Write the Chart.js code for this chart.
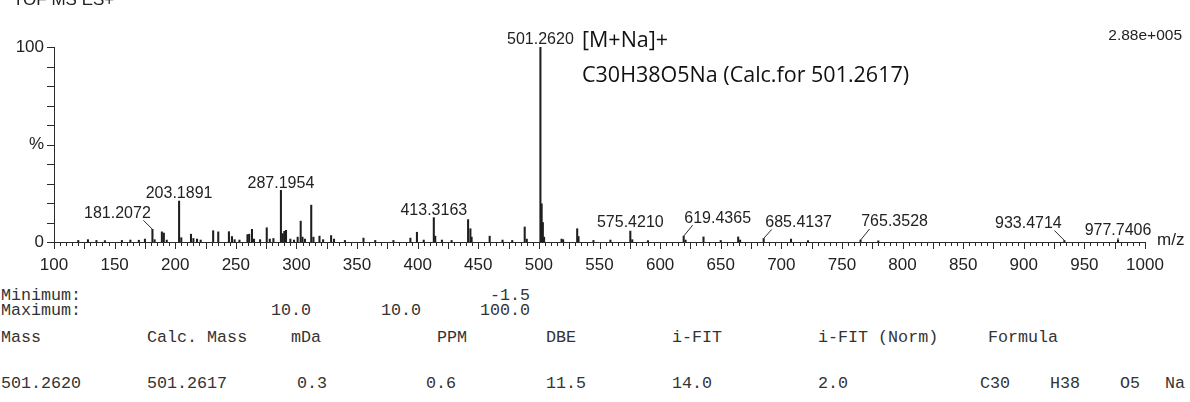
<!DOCTYPE html>
<html>
<head>
<meta charset="utf-8">
<script src="https://cdn.jsdelivr.net/npm/chart.js@4.4.1/dist/chart.umd.min.js"></script>
<style>
  html, body { margin: 0; padding: 0; background: #fff; }
  #wrap { position: relative; width: 1190px; height: 402px; overflow: hidden; }
  #spectrum { position: absolute; left: 0; top: 0; }
  .sans { position: absolute; font-family: "Liberation Sans", Arial, sans-serif; font-size: 16px; color: #222; white-space: pre; line-height: 1; }
  .cal { position: absolute; font-family: "Open Sans", sans-serif; font-size: 21.5px; color: #111; white-space: pre; line-height: 1; }
  .mono { position: absolute; font-family: "Liberation Mono", monospace; font-size: 16.7px; color: #333; white-space: pre; line-height: 1; }
</style>
</head>
<body>
<div id="wrap">
  <canvas id="spectrum" width="1190" height="280"></canvas>

  <div class="sans" style="left:13px; top:-9px; font-size:17px;">TOF MS ES+</div>
  <div class="sans" style="right:8px; top:27px; font-size:15.5px;">2.88e+005</div>
  <div class="sans" style="left:1157px; top:231px; font-size:17px;">m/z</div>
  <div class="cal" style="left:582px; top:28px;">[M+Na]+</div>
  <div class="cal" style="left:582px; top:63px;">C30H38O5Na (Calc.for 501.2617)</div>

  <!-- elemental composition report -->
  <div class="mono" style="left:1px; top:288px;">Minimum:</div>
  <div class="mono" style="left:490px; top:288px;">-1.5</div>
  <div class="mono" style="left:1px; top:303px;">Maximum:</div>
  <div class="mono" style="left:271px; top:303px;">10.0</div>
  <div class="mono" style="left:381px; top:303px;">10.0</div>
  <div class="mono" style="left:480px; top:303px;">100.0</div>

  <div class="mono" style="left:1px; top:330px;">Mass</div>
  <div class="mono" style="left:147px; top:330px;">Calc. Mass</div>
  <div class="mono" style="left:291px; top:330px;">mDa</div>
  <div class="mono" style="left:437px; top:330px;">PPM</div>
  <div class="mono" style="left:546px; top:330px;">DBE</div>
  <div class="mono" style="left:672px; top:330px;">i-FIT</div>
  <div class="mono" style="left:818px; top:330px;">i-FIT (Norm)</div>
  <div class="mono" style="left:988px; top:330px;">Formula</div>

  <div class="mono" style="left:1px; top:376px;">501.2620</div>
  <div class="mono" style="left:147px; top:376px;">501.2617</div>
  <div class="mono" style="left:297px; top:376px;">0.3</div>
  <div class="mono" style="left:426px; top:376px;">0.6</div>
  <div class="mono" style="left:546px; top:376px;">11.5</div>
  <div class="mono" style="left:672px; top:376px;">14.0</div>
  <div class="mono" style="left:818px; top:376px;">2.0</div>
  <div class="mono" style="left:980px; top:376px;">C30</div>
  <div class="mono" style="left:1050px; top:376px;">H38</div>
  <div class="mono" style="left:1120px; top:376px;">O5</div>
  <div class="mono" style="left:1165px; top:376px;">Na</div>
</div>

<script>
// --- Spectrum data (m/z, relative intensity %) ---
const mzValues = [
  120, 128, 135, 142, 156, 163, 170, 175, 181.2072, 183,
  189, 190.6, 193, 203.1891, 205, 213, 215, 218, 221,
  231.3, 235.5, 244.3, 246.8, 249, 253, 259.6, 261, 263.3, 265, 270,
  275.5, 278, 281, 287.1954, 288.7, 290, 291.4, 295, 298,
  301, 303.5, 305, 307, 312.2, 314, 319, 322, 328.6, 331, 340,
  355.3, 365, 380, 394, 399.4, 405, 413.3163, 414.5, 420, 428,
  441.6, 443.5, 444.5, 459.4, 470, 478, 488.3, 490,
  501.2620, 502.27, 503.27, 504.3, 518.7, 520, 531.6, 532.7, 545, 559,
  575.4210, 577, 590, 619.4365, 621, 635.8, 650, 664.4, 666,
  685.4137, 708, 722, 765.3528, 780, 933.4714, 977.7406
];
const intensities = [
  0.8, 1.2, 0.8, 0.7, 0.8, 1.0, 0.9, 1.5, 6.5, 1.2,
  5.2, 4.6, 1.0, 21, 2.2, 4.0, 1.8, 1.5, 1.0,
  5.8, 5.2, 5.3, 2.8, 1.2, 1.0, 3.8, 4.0, 6.5, 1.5, 1.2,
  7.3, 1.5, 1.8, 26.5, 4.3, 5.5, 6.0, 1.5, 1.0,
  2.5, 10.7, 2.5, 1.5, 18.9, 2.5, 3.0, 1.2, 3.3, 1.5, 0.8,
  2.0, 0.8, 0.8, 2.0, 5.0, 1.0, 12.5, 3.0, 1.0, 0.8,
  11.5, 6.8, 2.5, 3.0, 1.0, 0.8, 7.7, 1.5,
  100, 19.6, 10.0, 2.5, 1.5, 1.2, 6.8, 2.8, 0.8, 1.0,
  5.6, 1.2, 0.7, 3.0, 1.0, 2.6, 0.8, 2.6, 1.0,
  1.8, 1.5, 0.7, 1.0, 0.6, 0.8, 1.0
];

// peaks that carry an m/z label
const labelledMz = [181.2072, 203.1891, 287.1954, 413.3163, 501.2620, 575.4210,
  619.4365, 685.4137, 765.3528, 933.4714, 977.7406];

// axis ranges and labels
const xMin = 100, xMax = 1000;
const yLabels = { 0: '0', 50: '%', 100: '100' };

// label placement: dx = label centre offset from peak, dy = gap above peak top,
// lead = start of leader line relative to the peak (null = no leader)
const labelPlacement = [
  { dx: -35, dy: 11, lead: -9 },
  { dx: 0, dy: 2, lead: null },
  { dx: 0, dy: 2, lead: null },
  { dx: 0, dy: 2, lead: null },
  { dx: 0, dy: 2, lead: null },
  { dx: 0, dy: 3, lead: null },
  { dx: 34, dy: 13, lead: 9 },
  { dx: 35, dy: 11, lead: 8 },
  { dx: 34, dy: 13, lead: 9 },
  { dx: -36, dy: 12, lead: -10 },
  { dx: 0, dy: 4, lead: 0 }
];

const peakData = mzValues.map((m, i) => ({ x: m, y: intensities[i] }));

const spectrumDecor = {
  id: 'spectrumDecor',
  afterDraw(chart) {
    const { ctx, scales: { x, y }, chartArea: a } = chart;
    ctx.save();
    ctx.strokeStyle = '#2a2a2a';
    ctx.lineWidth = 1;

    // axis lines
    ctx.beginPath();
    ctx.moveTo(a.left + 0.5, a.top); ctx.lineTo(a.left + 0.5, a.bottom + 0.5);
    ctx.lineTo(a.right, a.bottom + 0.5);
    ctx.stroke();

    // x ticks every 5, long every 25
    x.ticks.forEach(t => {
      const px = Math.round(x.getPixelForValue(t.value)) + 0.5;
      const len = t.value % 25 === 0 ? 7 : 4;
      ctx.beginPath(); ctx.moveTo(px, a.bottom); ctx.lineTo(px, a.bottom + len); ctx.stroke();
    });
    // y ticks every 10
    y.ticks.forEach(t => {
      const py = Math.round(y.getPixelForValue(t.value)) + 0.5;
      ctx.beginPath(); ctx.moveTo(a.left - 7, py); ctx.lineTo(a.left, py); ctx.stroke();
    });

    // peak labels
    ctx.fillStyle = '#222';
    ctx.font = '16px "Liberation Sans", Arial, sans-serif';
    ctx.textAlign = 'center';
    ctx.textBaseline = 'bottom';
    labelledMz.forEach((m, i) => {
      const idx = mzValues.indexOf(m);
      const px = x.getPixelForValue(m);
      const top = y.getPixelForValue(intensities[idx]);
      const p = labelPlacement[i];
      const labelBottom = top - p.dy;
      ctx.fillText(m.toFixed(4), px + p.dx, labelBottom + 3);
      if (p.lead !== null) {
        ctx.beginPath();
        ctx.moveTo(px + p.lead, labelBottom + 2);
        ctx.lineTo(px, top);
        ctx.stroke();
      }
    });
    ctx.restore();
  }
};

new Chart(document.getElementById('spectrum'), {
  type: 'bar',
  data: {
    datasets: [{
      data: peakData,
      backgroundColor: '#1e1e1e',
      barThickness: 1.4,
      grouped: false
    }]
  },
  options: {
    responsive: false,
    animation: false,
    devicePixelRatio: 1,
    layout: { padding: { top: 47, right: 45, left: 0, bottom: 0 } },
    plugins: { legend: { display: false }, tooltip: { enabled: false } },
    scales: {
      x: {
        type: 'linear',
        min: xMin, max: xMax,
        offset: false,
        grid: { display: false, drawTicks: false },
        border: { display: false },
        ticks: {
          stepSize: 5, autoSkip: false, maxRotation: 0, padding: 13,
          color: '#222',
          font: { family: '"Liberation Sans", Arial, sans-serif', size: 17 },
          callback: v => (v % 50 === 0 ? String(v) : '')
        },
        afterFit: s => { s.height = 38; }
      },
      y: {
        min: 0, max: 100,
        grid: { display: false, drawTicks: false },
        border: { display: false },
        ticks: {
          stepSize: 10, autoSkip: false, padding: 10,
          color: '#222',
          font: { family: '"Liberation Sans", Arial, sans-serif', size: 17 },
          callback: v => (yLabels[v] !== undefined ? yLabels[v] : '')
        },
        afterFit: s => { s.width = 54; }
      }
    }
  },
  plugins: [spectrumDecor]
});
</script>
</body>
</html>
